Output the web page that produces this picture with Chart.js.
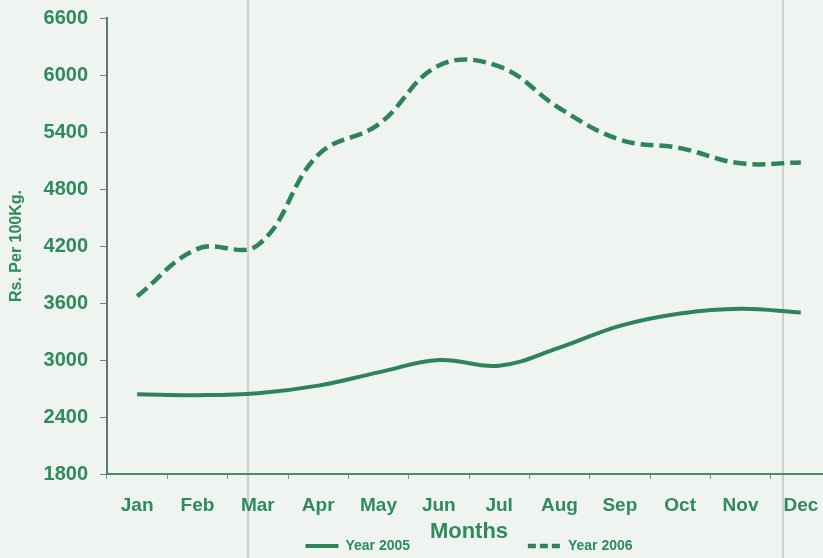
<!DOCTYPE html>
<html lang="en">
<head>
  <meta charset="UTF-8">
  <title>Rs. Per 100Kg.</title>
  <script src="https://cdn.jsdelivr.net/npm/chart.js"></script>
  <style>
    html, body { margin: 0; padding: 0; overflow: hidden; }
    body {
      width: 823px;
      height: 558px;
      background-color: #eff4f1;
      /* faint fold lines on the scanned page */
      background-image:
        linear-gradient(90deg, transparent 247px, rgba(170,182,176,0.55) 247px, rgba(170,182,176,0.55) 249px, transparent 249px),
        linear-gradient(90deg, transparent 782px, rgba(170,182,176,0.55) 782px, rgba(170,182,176,0.55) 784px, transparent 784px);
    }
    canvas { display: block; margin-top: -6px; }
  </style>
</head>
<body>
  <canvas id="priceChart" width="836" height="569"></canvas>

  <script>
    // monthly prices, Rs. per 100 Kg
    const months = ["Jan", "Feb", "Mar", "Apr", "May", "Jun", "Jul", "Aug", "Sep", "Oct", "Nov", "Dec"];
    const year2005 = [2640, 2630, 2650, 2730, 2870, 3000, 2940, 3130, 3360, 3490, 3540, 3500];
    const year2006 = [3670, 4170, 4210, 5160, 5480, 6100, 6090, 5650, 5320, 5230, 5070, 5080];
    const yMin = 1800;
    const yMax = 6600;
    const yStep = 600;

    const green = "#2e845a";
    const textGreen = "#2f8a5c";
    const fontFamily = "'Liberation Sans', Arial, sans-serif";

    const ctx = document.getElementById("priceChart").getContext("2d");
    new Chart(ctx, {
      type: "line",
      data: {
        labels: months,
        datasets: [
          {
            label: "Year 2005",
            data: year2005,
            borderColor: green,
            backgroundColor: green,
            borderWidth: 4,
            pointRadius: 0,
            tension: 0.4
          },
          {
            label: "Year 2006",
            data: year2006,
            borderColor: green,
            backgroundColor: green,
            borderWidth: 4.5,
            borderDash: [13, 6],
            pointRadius: 0,
            tension: 0.4
          }
        ]
      },
      options: {
        responsive: false,
        animation: false,
        devicePixelRatio: 1,
        layout: { padding: { top: 10, right: 5, left: 0, bottom: 0 } },
        plugins: {
          tooltip: { enabled: false },
          legend: {
            position: "bottom",
            fullSize: false,
            labels: {
              usePointStyle: true,
              pointStyle: "line",
              pointStyleWidth: 33,
              padding: 5,
              color: textGreen,
              font: { family: fontFamily, size: 14, weight: "bold" },
              generateLabels(chart) {
                const items = Chart.defaults.plugins.legend.labels.generateLabels(chart);
                // keep the two entries well apart
                items[0].text += " ".repeat(29);
                items[1].lineDash = [8, 4];
                return items;
              }
            }
          }
        },
        scales: {
          x: {
            offset: true,
            grid: { offset: true, drawOnChartArea: false, tickLength: 5, color: "#7d9488" },
            border: { color: "#4a8c68", width: 2 },
            ticks: {
              color: textGreen,
              padding: 15,
              font: { family: fontFamily, size: 19, weight: "bold" }
            },
            title: {
              display: true,
              text: "Months",
              color: textGreen,
              font: { family: fontFamily, size: 22, weight: "bold", lineHeight: 1 },
              padding: { top: 0, bottom: -9 }
            },
            afterFit(scale) { scale.height = 60; }
          },
          y: {
            min: yMin,
            max: yMax,
            grid: { drawOnChartArea: false, tickLength: 7, color: "#6c8679" },
            border: { color: "#5d7b6c", width: 2 },
            ticks: {
              stepSize: yStep,
              color: textGreen,
              padding: 12,
              font: { family: fontFamily, size: 20, weight: "bold" },
              callback: value => String(value)
            },
            title: {
              display: true,
              text: "Rs. Per 100Kg.",
              color: textGreen,
              font: { family: fontFamily, size: 16, weight: "bold" },
              padding: { top: 7, bottom: 0 }
            },
            afterFit(scale) { scale.width = 107; }
          }
        }
      }
    });
  </script>
</body>
</html>
